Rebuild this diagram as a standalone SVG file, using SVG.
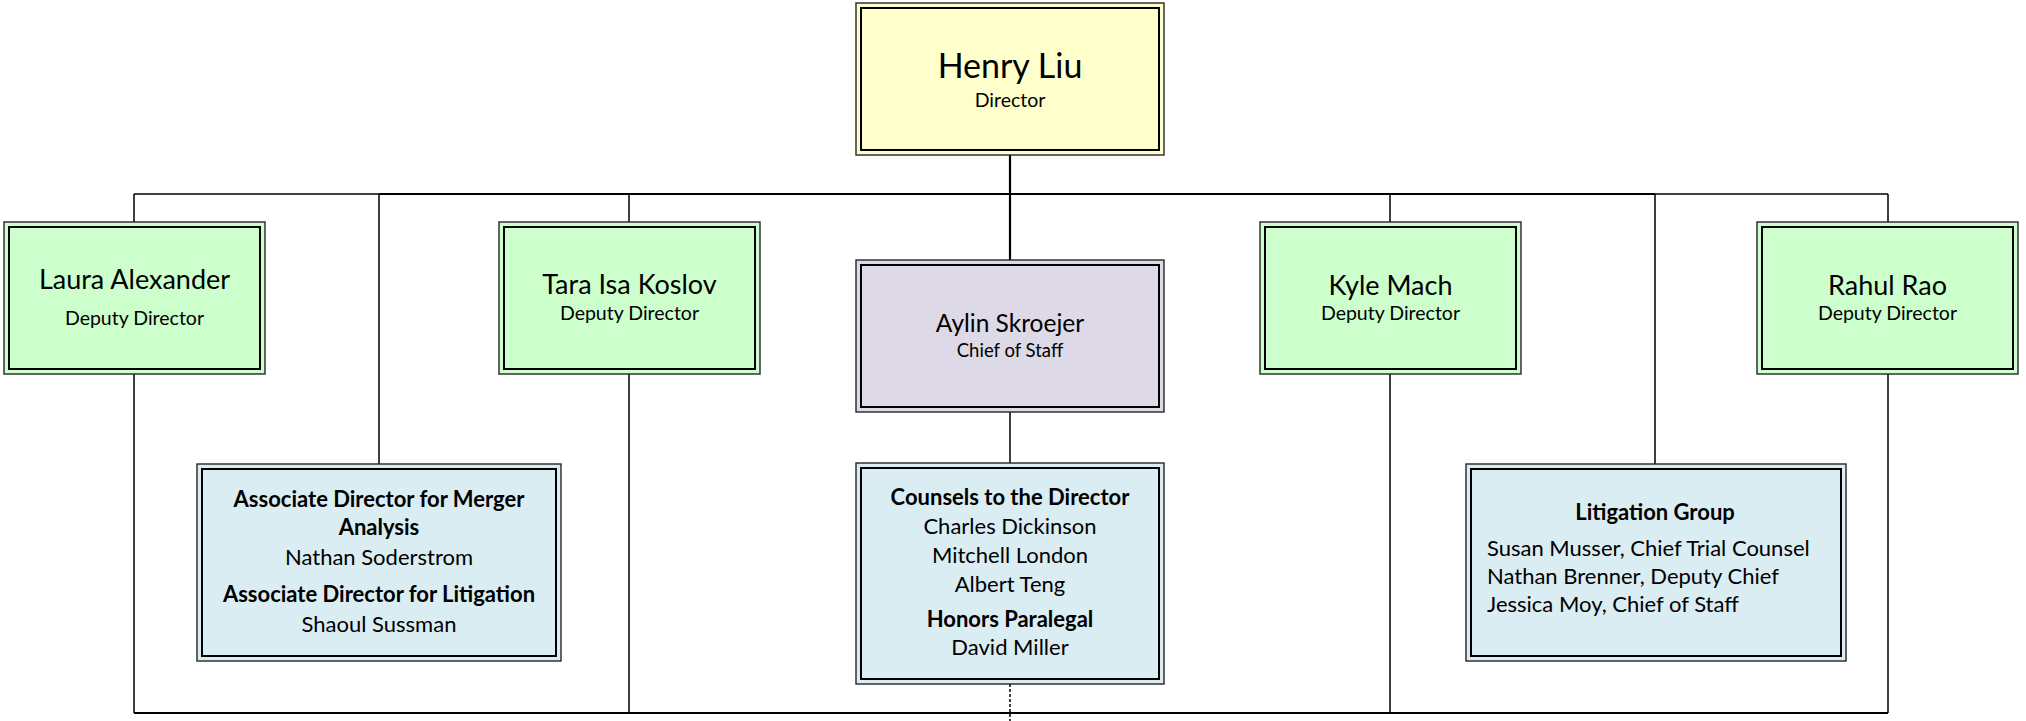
<svg xmlns="http://www.w3.org/2000/svg" width="2026" height="721" viewBox="0 0 2026 721">
<style>
.o{stroke:#262626;stroke-width:1.4}
.i{fill:none;stroke:#000;stroke-width:2}
.y{fill:#FFFFCC}.g{fill:#CCFFCC}.p{fill:#DDD9E6}.b{fill:#DAEDF3}
text{font-family:Lato,"Liberation Sans",sans-serif;fill:#000;text-anchor:middle}
.big{font-size:34px}.nm{font-size:27px}.sub{font-size:19.5px}.ay{font-size:24.5px}.cs{font-size:18.5px}
.t{font-size:22px}.bd{font-weight:bold}.l{text-anchor:start}
.c{stroke:#000;stroke-width:1.5;fill:none}
.ct{stroke:#000;stroke-width:2.2;fill:none}
.d{stroke:#000;stroke-width:1.5;stroke-dasharray:3 2;fill:none}
</style>
<g id="connectors">
<path class="c" d="M134 194H1888"/>
<path class="ct" d="M379 194H1655"/>
<path class="ct" d="M1010 155V260"/>
<path class="c" d="M134 194V222M379 194V464M629 194V222M1390 194V222M1655 194V464M1888 194V222"/>
<path class="c" d="M1010 412V463"/>
<path class="c" d="M134 374V713M629 374V713M1390 374V713M1888 374V713"/>
<path class="ct" d="M134 713H1888"/>
<path class="d" d="M1010 684V721"/>
</g>
<g id="henry">
<rect class="o y" x="856" y="3" width="308" height="152"/>
<rect class="i" x="861" y="8" width="298" height="142"/>
<text class="big" x="1010" y="78">Henry Liu</text>
<text class="sub" x="1010" y="107">Director</text>
</g>
<g id="laura">
<rect class="o g" x="4" y="222" width="261" height="152"/>
<rect class="i" x="9" y="227" width="251" height="142"/>
<text class="nm" x="134.5" y="289">Laura Alexander</text>
<text class="sub" x="134.5" y="325">Deputy Director</text>
</g>
<g id="tara">
<rect class="o g" x="499" y="222" width="261" height="152"/>
<rect class="i" x="504" y="227" width="251" height="142"/>
<text class="nm" x="629.5" y="294">Tara Isa Koslov</text>
<text class="sub" x="629.5" y="320">Deputy Director</text>
</g>
<g id="aylin">
<rect class="o p" x="856" y="260" width="308" height="152"/>
<rect class="i" x="861" y="265" width="298" height="142"/>
<text class="ay" x="1010" y="332">Aylin Skroejer</text>
<text class="cs" x="1010" y="357">Chief of Staff</text>
</g>
<g id="kyle">
<rect class="o g" x="1260" y="222" width="261" height="152"/>
<rect class="i" x="1265" y="227" width="251" height="142"/>
<text class="nm" x="1390.5" y="295">Kyle Mach</text>
<text class="sub" x="1390.5" y="320">Deputy Director</text>
</g>
<g id="rahul">
<rect class="o g" x="1757" y="222" width="261" height="152"/>
<rect class="i" x="1762" y="227" width="251" height="142"/>
<text class="nm" x="1887.5" y="295">Rahul Rao</text>
<text class="sub" x="1887.5" y="320">Deputy Director</text>
</g>
<g id="associates">
<rect class="o b" x="197" y="464" width="364" height="197"/>
<rect class="i" x="202" y="469" width="354" height="187"/>
<text class="t bd" x="379" y="507">Associate Director for Merger</text>
<text class="t bd" x="379" y="535">Analysis</text>
<text class="t" x="379" y="565">Nathan Soderstrom</text>
<text class="t bd" x="379" y="602">Associate Director for Litigation</text>
<text class="t" x="379" y="632">Shaoul Sussman</text>
</g>
<g id="counsels">
<rect class="o b" x="856" y="463" width="308" height="221"/>
<rect class="i" x="861" y="468" width="298" height="211"/>
<text class="t bd" x="1010" y="505">Counsels to the Director</text>
<text class="t" x="1010" y="534">Charles Dickinson</text>
<text class="t" x="1010" y="563">Mitchell London</text>
<text class="t" x="1010" y="592">Albert Teng</text>
<text class="t bd" x="1010" y="627">Honors Paralegal</text>
<text class="t" x="1010" y="655">David Miller</text>
</g>
<g id="litigation">
<rect class="o b" x="1466" y="464" width="380" height="197"/>
<rect class="i" x="1471" y="469" width="370" height="187"/>
<text class="t bd" x="1655" y="520">Litigation Group</text>
<text class="t l" x="1487" y="556">Susan Musser, Chief Trial Counsel</text>
<text class="t l" x="1487" y="584">Nathan Brenner, Deputy Chief</text>
<text class="t l" x="1487" y="612">Jessica Moy, Chief of Staff</text>
</g>
</svg>
